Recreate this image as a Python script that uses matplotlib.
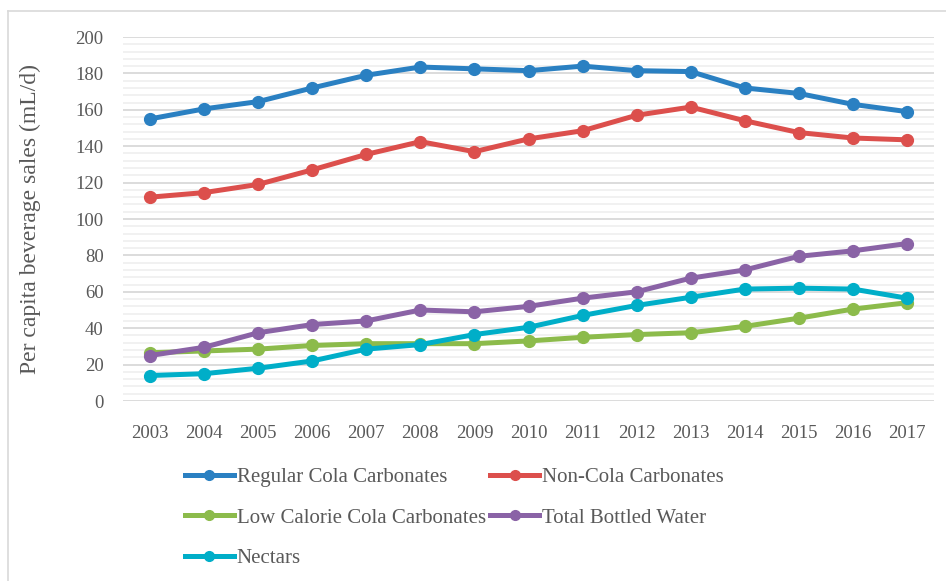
import matplotlib.pyplot as plt
from matplotlib.lines import Line2D
from matplotlib.ticker import MultipleLocator

# ------------------------
# Data
# ------------------------
years = [str(y) for y in range(2003, 2018)]

regular_cola = [155, 160.5, 164.5, 172, 179, 183.5, 182.5, 181.5, 184, 181.5, 181, 172, 169, 163, 159]
non_cola = [112, 114.5, 119, 127, 135.5, 142.5, 137, 144, 148.5, 157, 161.5, 154, 147.5, 144.5, 143.5]
low_cal_cola = [26.5, 27.5, 28.5, 30.5, 31.5, 31.5, 31.5, 33, 35, 36.5, 37.5, 41, 45.5, 50.5, 54]
bottled_water = [25, 29.5, 37.5, 42, 44, 50, 49, 52, 56.5, 60, 67.5, 72, 79.5, 82.5, 86.5]
nectars = [14, 15, 18, 22, 28.5, 31, 36.5, 40.5, 47, 52.5, 57, 61.5, 62, 61.5, 56.5]

series = [
    ("Regular Cola Carbonates", regular_cola, "#2a80c2"),
    ("Non-Cola Carbonates", non_cola, "#dc4f4c"),
    ("Low Calorie Cola Carbonates", low_cal_cola, "#8cbb4b"),
    ("Total Bottled Water", bottled_water, "#8a63a6"),
    ("Nectars", nectars, "#00aec8"),
]

plt.rcParams["font.family"] = ["Liberation Serif", "DejaVu Serif"]
TEXT = "#595959"

fig = plt.figure(figsize=(9.46, 5.81), dpi=100)
ax = fig.add_axes([123 / 946, 1 - 401 / 581, (934 - 123) / 946, (401 - 37) / 581])

x = range(len(years))
for name, vals, col in series:
    ax.plot(x, vals, color=col, lw=3.6, marker="o", ms=8.5, label=name,
            solid_capstyle="round")

ax.set_xlim(-0.5, len(years) - 0.5)
ax.set_ylim(0, 200)
ax.set_xticks(list(x))
ax.set_xticklabels(years)
ax.yaxis.set_major_locator(MultipleLocator(20))
ax.yaxis.set_minor_locator(MultipleLocator(4))
ax.grid(axis="y", which="major", color="#d9d9d9", lw=1.3)
ax.grid(axis="y", which="minor", color="#f0f0f0", lw=1.3)
ax.set_axisbelow(True)
for s in ax.spines.values():
    s.set_visible(False)
ax.tick_params(axis="both", which="both", length=0, labelsize=13.5, colors=TEXT)
ax.tick_params(axis="x", pad=17)
ax.tick_params(axis="y", pad=14)
ax.set_ylabel("Per capita beverage sales (mL/d)", fontsize=17, color=TEXT)
ax.yaxis.set_label_coords(-0.101, 0.5)

# legend below the plot, two columns
handles = [Line2D([], [], color=c, lw=3.6, marker="o", ms=7) for _, _, c in series]
labels = [n for n, _, _ in series]
order = [0, 2, 4, 1, 3]
fig.legend([handles[i] for i in order], [labels[i] for i in order], ncol=2,
           loc="upper left", bbox_to_anchor=(166 / 946, 1 - 449 / 581),
           frameon=False, fontsize=15, labelcolor=TEXT, handlelength=2.35,
           handletextpad=0.15, columnspacing=0.2, labelspacing=1.0)

# outer chart border (light gray, left and top visible)
fig.add_artist(Line2D([8 / 946, 8 / 946], [0, 1 - 11 / 581], color="#d9d9d9", lw=1.2))
fig.add_artist(Line2D([8 / 946, 1], [1 - 11 / 581, 1 - 11 / 581], color="#d9d9d9", lw=1.2))

fig.savefig("out.png", dpi=100)
